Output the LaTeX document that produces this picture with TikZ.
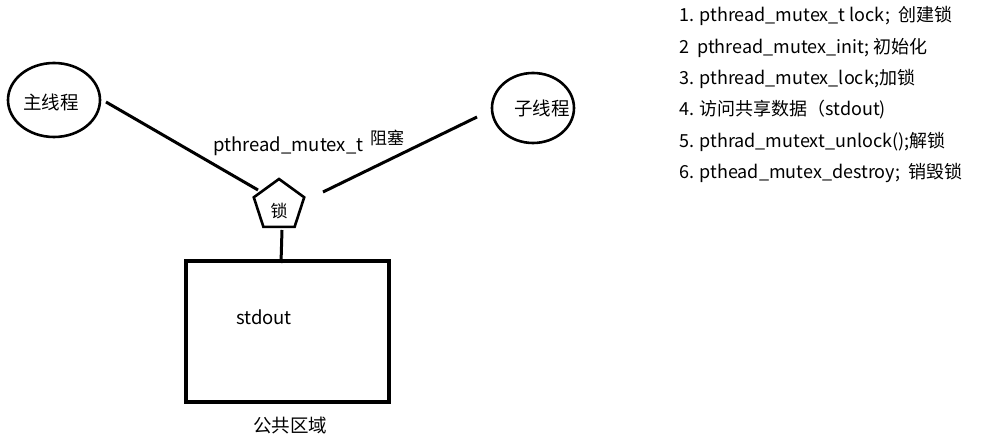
\documentclass[tikz,border=0pt]{standalone}
\usepackage{fontspec}
\setmainfont{Noto Sans CJK SC}
\usetikzlibrary{shapes.geometric}
\begin{document}
\begin{tikzpicture}[x=1pt,y=-1pt,
  thread/.style={draw,ellipse,line width=2.6pt,inner sep=0pt},
  lockshape/.style={draw,regular polygon,regular polygon sides=5,minimum size=53pt,inner sep=0pt,line width=2.6pt},
  conn/.style={line width=3pt},
  area/.style={draw,line width=3.8pt,inner sep=0pt},
  txt/.style={font=\fontsize{18.5}{22}\selectfont,inner sep=0pt},
  item/.style={font=\fontsize{18}{22}\selectfont,inner sep=0pt,anchor=west}]
\useasboundingbox[fill=white] (0,0) rectangle (991,443);
% threads
\node[thread,minimum width=92pt,minimum height=74pt] (main) at (54,100) {};
\node[txt] at (51,102) {主线程};
\node[thread,minimum width=82pt,minimum height=70pt] (child) at (533,108) {};
\node[txt] at (542,108) {子线程};
% lock
\node[lockshape] (lock) at (279,205.5) {};
\node[txt,font=\fontsize{17}{20}\selectfont] at (279,211) {锁};
% shared area
\node[area,minimum width=203pt,minimum height=141pt] (box) at (287.5,331.5) {};
\node[txt] at (264,317) {stdout};
\node[txt] at (290,425) {公共区域};
% labels
\node[txt,anchor=base west] (mt) at (213,152) {pthread\_mutex\_t};
\node[font=\fontsize{17}{20}\selectfont,inner sep=0pt] (blk) at (387,138) {阻塞};
% connector end points
\coordinate (m1) at (106,102);
\coordinate (l1) at (258,190);
\coordinate (l2) at (323,192);
\coordinate (c1) at (477,117);
\coordinate (l3) at (282,230);
\coordinate (b1) at (281,263);
\draw[conn] (m1) -- (l1);
\draw[conn] (l2) -- (c1);
\draw[conn] (l3) -- (b1);
% list
\node[item] (s1) at (679,16) {1. pthread\_mutex\_t lock;\ \ 创建锁};
\node[item] (s2) at (679,48) {2\ \ pthread\_mutex\_init; 初始化};
\node[item] (s3) at (679,79) {3. pthread\_mutex\_lock;加锁};
\node[item] (s4) at (679,110) {4. 访问共享数据（stdout)};
\node[item] (s5) at (679,142) {5. pthrad\_mutext\_unlock();解锁};
\node[item] (s6) at (679,173) {6. pthead\_mutex\_destroy;\ \ 销毁锁};
\end{tikzpicture}
\end{document}
